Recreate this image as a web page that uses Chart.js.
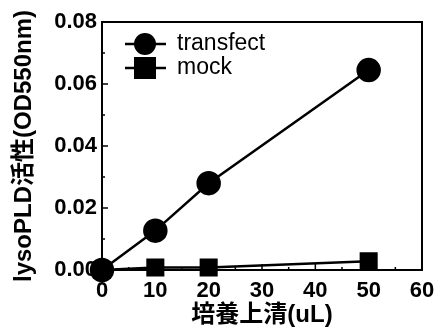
<!DOCTYPE html>
<html lang="ja">
<head>
    <meta charset="utf-8">
    <title>lysoPLD activity</title>
    <script src="https://cdn.jsdelivr.net/npm/chart.js"></script>
    <style>
        body { margin: 0; background: #fff; }
    </style>
</head>
<body>
    <canvas id="myChart" width="437" height="333"></canvas>
    <script>
        // data
        var volumes = [0, 10, 20, 50];
        var transfect = [0, 0.0127, 0.028, 0.0645];
        var mock = [0, 0.0008, 0.0008, 0.0028];
        var xTicks = [0, 10, 20, 30, 40, 50, 60];
        var yTicks = [0, 0.02, 0.04, 0.06, 0.08];
        var seriesNames = ['transfect', 'mock'];

        var FONT = "'Liberation Sans', 'Noto Sans CJK JP', sans-serif";

        function toPoints(ys) {
            var pts = [];
            for (var i = 0; i < volumes.length; i++) {
                pts.push({ x: volumes[i], y: ys[i] });
            }
            return pts;
        }

        // frame, inward ticks and legend drawn on top of the chart
        var framePlugin = {
            id: 'frame',
            afterDraw: function (chart) {
                var ctx = chart.ctx;
                var a = chart.chartArea;
                var xs = chart.scales.x, ys = chart.scales.y;
                ctx.save();
                ctx.strokeStyle = '#000';
                ctx.lineWidth = 2;
                ctx.strokeRect(a.left, a.top, a.right - a.left, a.bottom - a.top);

                ctx.lineWidth = 1.5;
                for (var v = 0; v <= 60; v += 5) {
                    var px = xs.getPixelForValue(v);
                    var len = (v % 10 === 0) ? 6 : 3;
                    ctx.beginPath();
                    ctx.moveTo(px, a.bottom);
                    ctx.lineTo(px, a.bottom - len);
                    ctx.stroke();
                }
                for (var k = 0; k <= 8; k++) {
                    var py = ys.getPixelForValue(k * 0.01);
                    var l2 = (k % 2 === 0) ? 6 : 3;
                    ctx.beginPath();
                    ctx.moveTo(a.left, py);
                    ctx.lineTo(a.left + l2, py);
                    ctx.stroke();
                }

                // legend
                var rows = [44, 68];
                for (var i = 0; i < chart.data.datasets.length; i++) {
                    var ds = chart.data.datasets[i];
                    var cy = rows[i];
                    ctx.lineWidth = 2.5;
                    ctx.beginPath();
                    ctx.moveTo(125, cy);
                    ctx.lineTo(166, cy);
                    ctx.stroke();
                    ctx.fillStyle = '#000';
                    if (ds.pointStyle === 'circle') {
                        ctx.beginPath();
                        ctx.arc(145, cy, 11, 0, Math.PI * 2);
                        ctx.fill();
                    } else {
                        ctx.fillRect(134, cy - 11, 22, 22);
                    }
                    ctx.font = '23px ' + FONT;
                    ctx.textBaseline = 'middle';
                    ctx.textAlign = 'left';
                    ctx.fillText(ds.label, 177, cy);
                }
                ctx.restore();
            }
        };

        var ctx = document.getElementById('myChart').getContext('2d');
        var myChart = new Chart(ctx, {
            type: 'line',
            data: {
                datasets: [{
                    label: seriesNames[0],
                    data: toPoints(transfect),
                    borderColor: '#000',
                    backgroundColor: '#000',
                    borderWidth: 2.5,
                    pointStyle: 'circle',
                    pointRadius: 11,
                    clip: false
                }, {
                    label: seriesNames[1],
                    data: toPoints(mock),
                    borderColor: '#000',
                    backgroundColor: '#000',
                    borderWidth: 2.5,
                    pointStyle: 'rect',
                    pointRadius: 11,
                    clip: false
                }]
            },
            options: {
                responsive: false,
                animation: false,
                layout: { padding: { left: 10, top: 22, right: 15, bottom: 3 } },
                plugins: {
                    legend: { display: false },
                    tooltip: { enabled: false }
                },
                scales: {
                    x: {
                        type: 'linear',
                        min: 0,
                        max: 60,
                        grid: { display: false, drawTicks: false },
                        border: { display: false },
                        afterBuildTicks: function (s) {
                            s.ticks = xTicks.map(function (v) { return { value: v }; });
                        },
                        afterFit: function (s) {
                            s.height = 60;
                            s.paddingLeft = 0;
                            s.paddingRight = 0;
                        },
                        ticks: {
                            padding: 8,
                            color: '#000',
                            maxRotation: 0,
                            font: { family: FONT, size: 22, weight: 'bold' }
                        },
                        title: {
                            display: true,
                            text: '培養上清(uL)',
                            color: '#000',
                            padding: { top: 0, bottom: 0 },
                            font: { family: FONT, size: 24, weight: 'bold' }
                        }
                    },
                    y: {
                        min: 0,
                        max: 0.08,
                        grid: { display: false, drawTicks: false },
                        border: { display: false },
                        afterBuildTicks: function (s) {
                            s.ticks = yTicks.map(function (v) { return { value: v }; });
                        },
                        afterFit: function (s) { s.width = 92; },
                        ticks: {
                            padding: 5,
                            color: '#000',
                            font: { family: FONT, size: 22, weight: 'bold' },
                            callback: function (v) { return v.toFixed(2); }
                        },
                        title: {
                            display: true,
                            text: 'lysoPLD活性(OD550nm)',
                            color: '#000',
                            padding: { top: 0, bottom: 0 },
                            font: { family: FONT, size: 24, weight: 'bold' }
                        }
                    }
                }
            },
            plugins: [framePlugin]
        });
    </script>
</body>
</html>
